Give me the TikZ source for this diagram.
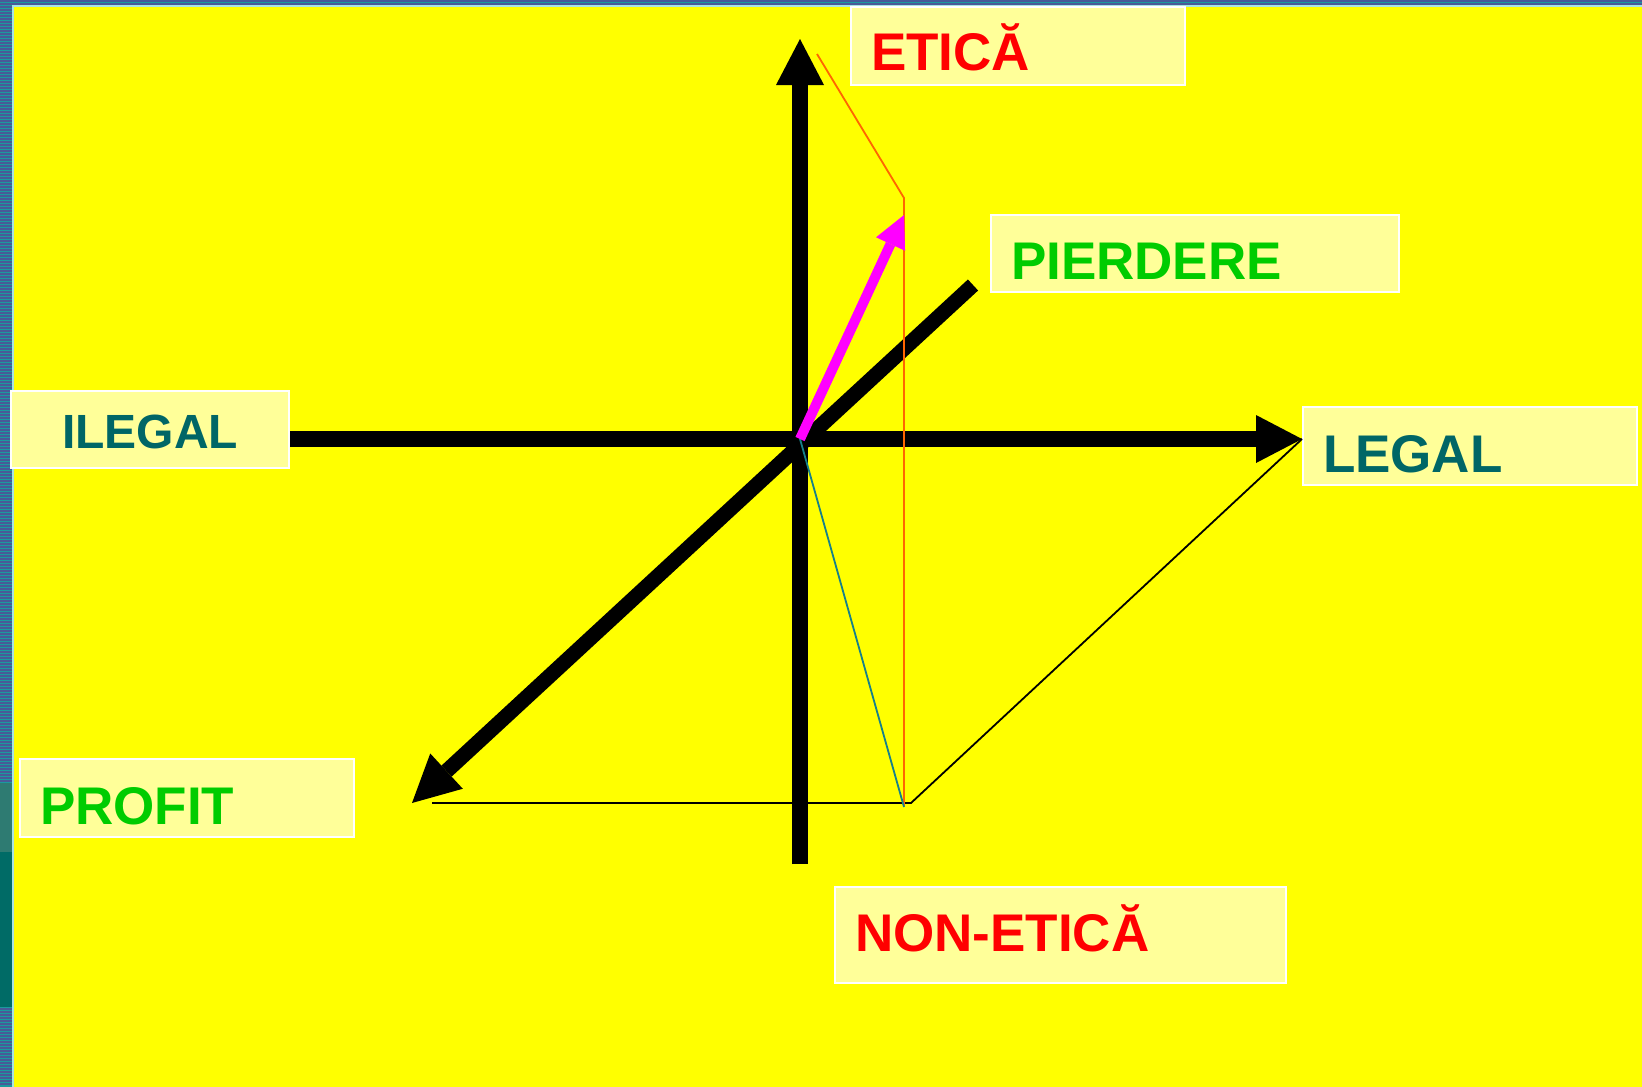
\documentclass[tikz,border=0pt]{standalone}
\usepackage{fontspec}
\setmainfont{Liberation Sans}
\usetikzlibrary{arrows.meta}

\begin{document}
\begin{tikzpicture}[x=1pt,y=-1pt,
    labelbox/.style={draw=white, line width=2pt, fill=boxFill, anchor=north west,
        inner xsep=20pt, inner ysep=0pt, align=left,
        font=\fontsize{53}{60}\selectfont\bfseries},
    axis/.style={line width=16pt, -{Triangle[length=46pt,width=48pt,line width=0pt]}},
    guide/.style={line width=1.8pt, line join=miter}]

    \definecolor{bgYellow}{HTML}{FFFF00}
    \definecolor{boxFill}{HTML}{FFFF99}
    \definecolor{stripeTeal}{HTML}{1A9A9E}
    \definecolor{stripeBlue}{HTML}{485A98}
    \definecolor{edgeLight}{HTML}{A8E4E4}
    \definecolor{blockGrey}{HTML}{2E7B72}
    \definecolor{blockDark}{HTML}{006B66}
    \definecolor{legalColour}{HTML}{006666}
    \definecolor{eticaColour}{HTML}{FF0000}
    \definecolor{profitColour}{HTML}{00CC00}
    \definecolor{vectorColour}{HTML}{FF00FF}
    \definecolor{orangeLine}{HTML}{FF6600}
    \definecolor{tealLine}{HTML}{16808A}

    \useasboundingbox (0,0) rectangle (1642,1087);

    % Draw slide background and edge strips
    \fill[stripeTeal] (0,0) rectangle (1642,1087);
    \foreach \s in {0,3,...,1085}
        \fill[stripeBlue] (0,\s) rectangle (12,\s+1.5);
    \foreach \s in {0,3}
        \fill[stripeBlue] (0,\s) rectangle (1642,\s+1.5);
    \fill[blockGrey] (0,783) rectangle (12,852);
    \fill[blockDark] (0,852) rectangle (12,1007);
    \fill[edgeLight] (12,5) rectangle (1642,1087);
    \fill[bgYellow] (14,7) rectangle (1642,1087);

    % Draw label boxes
    \node[labelbox, text=eticaColour, text width=294pt, text height=63pt, text depth=15pt] (etica) at (850,6) {ETICĂ};
    \node[labelbox, text=profitColour, text width=368pt, text height=64pt, text depth=13pt] (pierdere) at (990,214) {PIERDERE};
    \node[labelbox, text=legalColour, text width=238pt, text height=57pt, text depth=20pt,
        align=center, font=\fontsize{48}{54}\selectfont\bfseries] (ilegal) at (10,390) {ILEGAL};
    \node[labelbox, text=legalColour, text width=294pt, text height=65pt, text depth=13pt] (legal) at (1302,406) {LEGAL};
    \node[labelbox, text=profitColour, text width=294pt, text height=65pt, text depth=13pt] (profit) at (19,758) {PROFIT};
    \node[labelbox, text=eticaColour, text width=411pt, text height=64pt, text depth=32pt] (nonetica) at (834,886) {NON-ETICĂ};

    % Define axis points
    \coordinate (origin) at (800,439);
    \coordinate (vBottom) at (800,864);
    \coordinate (vTop) at (800,39);
    \coordinate (dBack) at (973,285);
    \coordinate (dTip) at (412,803);

    % Draw axes
    \draw[axis] (ilegal.east |- origin) -- (legal.west |- origin);
    \draw[axis] (vBottom) -- (vTop);
    \draw[line width=15pt, -{Triangle[length=47pt,width=48pt,line width=0pt]}] (dBack) -- (dTip);

    % Define points of the construction lines
    \coordinate (pBase) at (432,803);
    \coordinate (pCorner) at (911,803);
    \coordinate (oTop) at (817,54);
    \coordinate (oKnee) at (904,198);
    \coordinate (oBottom) at (904,806);
    \coordinate (tealEnd) at (904,807);
    \coordinate (mTip) at (904,215);

    % Draw construction lines
    \draw[guide] (pBase) -- (pCorner) -- (legal.west |- origin);
    \draw[guide, orangeLine] (oTop) -- (oKnee) -- (oBottom);
    \draw[guide, tealLine] (origin) -- (tealEnd);

    % Draw resulting vector
    \draw[line width=10pt, vectorColour, -{Triangle[length=32pt,width=32pt,line width=0pt]}] (origin) -- (mTip);

\end{tikzpicture}
\end{document}
